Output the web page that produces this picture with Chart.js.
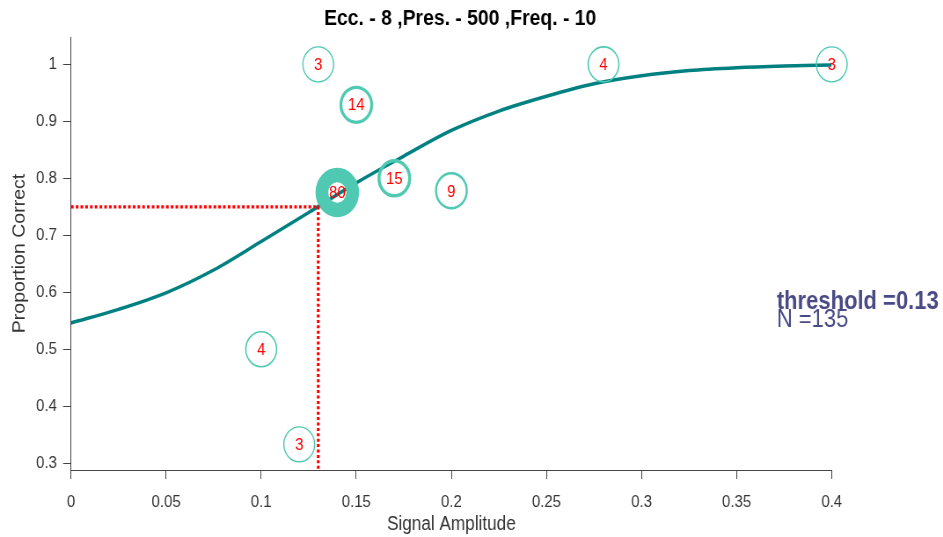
<!DOCTYPE html>
<html>
<head>
<meta charset="utf-8">
<script src="https://cdn.jsdelivr.net/npm/chart.js@4.4.1/dist/chart.umd.min.js"></script>
<style>
  html, body { margin: 0; padding: 0; background: #fff; overflow: hidden; }
  /* the source figure is squeezed horizontally, so draw wide and squeeze */
  #wrap { width: 1072px; height: 537px; transform: scaleX(0.8797); transform-origin: 0 0; }
</style>
</head>
<body>
<div id="wrap"><canvas id="chart" width="1072" height="537"></canvas></div>
<script>
// observed blocks
const amplitudes = [0.13, 0.15, 0.14, 0.17, 0.20, 0.28, 0.40, 0.10, 0.12];
const propCorrect = [1.0, 0.929, 0.775, 0.80, 0.778, 1.0, 1.0, 0.5, 0.333];
const trialCounts = [3, 14, 80, 15, 9, 4, 3, 4, 3];

// fitted psychometric curve
const fitX = [0, 0.025, 0.05, 0.075, 0.1, 0.125, 0.15, 0.175, 0.2, 0.225, 0.25, 0.275, 0.3, 0.325, 0.35, 0.375, 0.4];
const fitY = [0.546, 0.570, 0.599, 0.639, 0.689, 0.740, 0.792, 0.839, 0.884, 0.918, 0.944, 0.966, 0.980, 0.989, 0.994, 0.997, 0.999];

const threshold = 0.13;
const thresholdLevel = 0.75;

const xTicks = [0, 0.05, 0.1, 0.15, 0.2, 0.25, 0.3, 0.35, 0.4];
const yTicks = [0.3, 0.4, 0.5, 0.6, 0.7, 0.8, 0.9, 1];

const yMin = 0.288, yMax = 1.048;
const FONT = '"Liberation Sans", Arial, sans-serif';
const ringColor = '#4fc9b1';

// ring width grows with number of trials
const ringWidths = trialCounts.map(n => 0.9 + 0.17 * n);

const labelsPlugin = {
    id: 'labels',
    afterDatasetsDraw(chart) {
        const ctx = chart.ctx;
        const meta = chart.getDatasetMeta(1);
        ctx.save();
        ctx.fillStyle = '#ff0000';
        ctx.font = '17px ' + FONT;
        ctx.textAlign = 'center';
        ctx.textBaseline = 'middle';
        meta.data.forEach((pt, i) => {
            ctx.fillText(String(trialCounts[i]), pt.x, pt.y + 1);
        });
        ctx.restore();
    },
    afterDraw(chart) {
        const ctx = chart.ctx;
        const area = chart.chartArea;
        ctx.save();
        ctx.fillStyle = '#000';
        ctx.font = 'bold 22px ' + FONT;
        ctx.textAlign = 'center';
        ctx.textBaseline = 'middle';
        ctx.fillText('Ecc. - 8 ,Pres. - 500 ,Freq. - 10', (area.left + area.right) / 2 + 10, 19);

        const total = trialCounts.reduce((a, b) => a + b, 0);
        ctx.textAlign = 'left';
        ctx.textBaseline = 'alphabetic';
        ctx.fillStyle = '#4a4a86';
        ctx.font = 'bold 25px ' + FONT;
        ctx.fillText('threshold =' + threshold, 883, 309);
        ctx.font = '25px ' + FONT;
        ctx.fillText('N =' + total, 883, 327);
        ctx.restore();
    }
};

const axisCommon = {
    type: 'linear',
    grid: { drawOnChartArea: false, drawTicks: true, tickLength: 9, color: '#444' },
    border: { display: true, color: '#444', width: 1 },
};

new Chart(document.getElementById('chart'), {
    type: 'line',
    data: {
        datasets: [
            {
                label: 'fit',
                data: fitX.map((x, i) => ({ x: x, y: fitY[i] })),
                borderColor: '#008080',
                borderWidth: 3.5,
                pointRadius: 0,
                cubicInterpolationMode: 'monotone',
                order: 3
            },
            {
                label: 'data',
                data: amplitudes.map((x, i) => ({ x: x, y: propCorrect[i] })),
                showLine: false,
                clip: false,
                pointStyle: 'circle',
                pointRadius: 17.5,
                pointHoverRadius: 17.5,
                pointBorderWidth: ringWidths,
                pointBorderColor: ringColor,
                pointBackgroundColor: 'rgba(0,0,0,0)',
                order: 2
            },
            {
                label: 'threshold',
                data: [
                    { x: 0, y: thresholdLevel },
                    { x: threshold, y: thresholdLevel },
                    { x: threshold, y: yMin }
                ],
                borderColor: '#ff0000',
                borderWidth: 3.2,
                borderDash: [3, 2.4],
                pointRadius: 0,
                tension: 0,
                order: 1
            }
        ]
    },
    options: {
        responsive: false,
        animation: false,
        devicePixelRatio: 1,
        layout: { padding: { left: 0, right: 126.5, top: 37, bottom: 0 } },
        plugins: { legend: { display: false }, tooltip: { enabled: false }, title: { display: false } },
        scales: {
            x: {
                ...axisCommon,
                min: 0, max: 0.4,
                afterBuildTicks: scale => { scale.ticks = xTicks.map(v => ({ value: v })); },
                afterFit: scale => { scale.height = 67; },
                ticks: {
                    color: '#333', font: { family: FONT, size: 17 }, padding: 13,
                    autoSkip: false, maxRotation: 0, callback: v => String(v)
                },
                title: {
                    display: true, text: 'Signal Amplitude', color: '#333',
                    font: { family: FONT, size: 19.5 }, padding: { top: 0, bottom: 1 }
                }
            },
            y: {
                ...axisCommon,
                min: yMin, max: yMax,
                afterBuildTicks: scale => { scale.ticks = yTicks.map(v => ({ value: v })); },
                afterFit: scale => { scale.width = 80.7; },
                ticks: {
                    color: '#333', font: { family: FONT, size: 17 }, padding: 7,
                    callback: v => String(v)
                },
                title: {
                    display: true, text: 'Proportion Correct', color: '#333',
                    font: { family: FONT, size: 19.5 }, padding: { top: 11, bottom: 0 }
                }
            }
        }
    },
    plugins: [labelsPlugin]
});
</script>
</body>
</html>
